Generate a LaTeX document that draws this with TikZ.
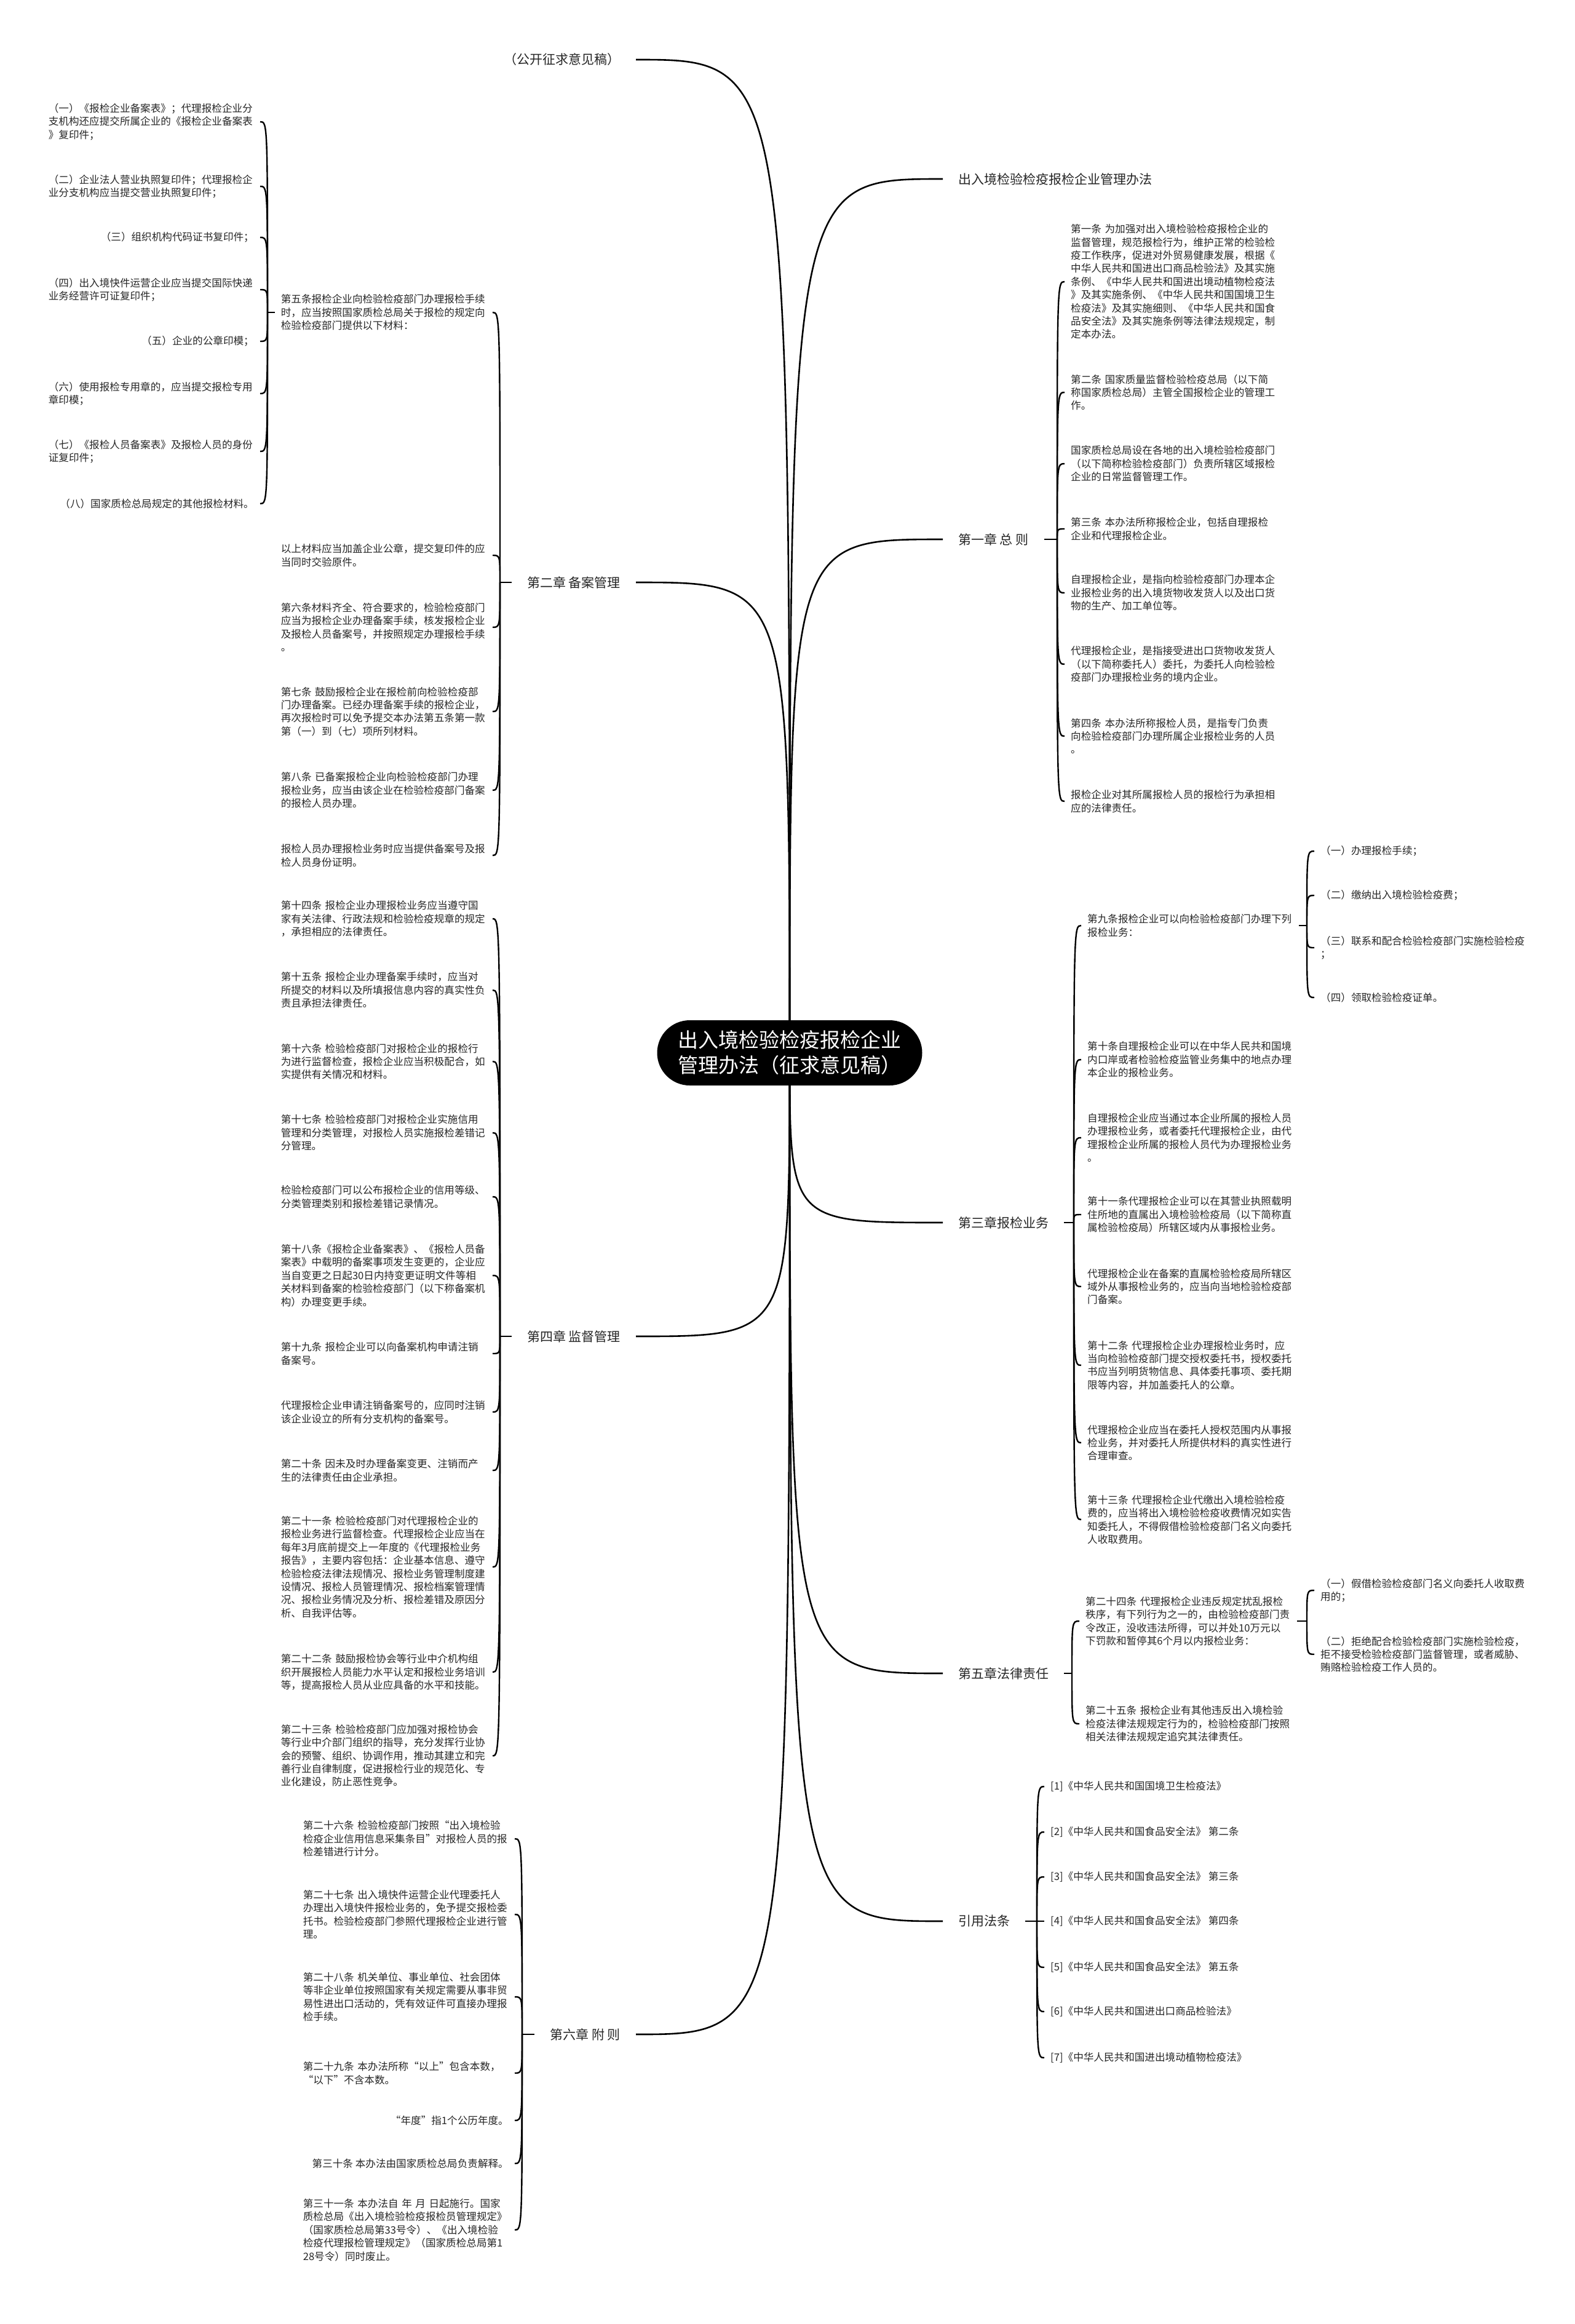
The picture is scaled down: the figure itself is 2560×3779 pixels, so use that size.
\documentclass[tikz,border=0pt]{standalone}
\usepackage{fontspec}
\setmainfont{Noto Sans CJK SC}
\usetikzlibrary{backgrounds}

\begin{document}
\begin{tikzpicture}[x=1pt,y=-1pt,
  hub/.style={fill=black, text=white, rounded corners=53pt, minimum width=431pt, minimum height=106pt, align=left, inner xsep=31pt, font=\fontsize{33pt}{41pt}\selectfont},
  topic/.style={text=black!85, inner xsep=25pt, font=\fontsize{21pt}{26pt}\selectfont},
  leaf/.style={text=black!85, align=left, inner xsep=10pt, inner ysep=2pt, font=\fontsize{16.6pt}{21.4pt}\selectfont},
  para/.style={leaf, text width=334pt},
  branch/.style={line width=2.6pt},
  twig/.style={line width=2.4pt}]
  \path[use as bounding box] (0,0) rectangle (2560,3779);

  \node[hub] (root) at (1284,1712) {出入境检验检疫报检企业\\管理办法（征求意见稿）};

  % left topics
  \node[topic, anchor=east] (draft) at (1034,97) {（公开征求意见稿）};
  \node[topic, anchor=east] (ch2) at (1034,947) {第二章 备案管理};
  \node[topic, anchor=east] (ch4) at (1034,2173) {第四章 监督管理};
  \node[topic, anchor=east] (ch6) at (1034,3308) {第六章 附 则};

  % right topics
  \node[topic, anchor=west] (title) at (1533,291) {出入境检验检疫报检企业管理办法};
  \node[topic, anchor=west] (ch1) at (1533,877) {第一章 总 则};
  \node[topic, anchor=west] (ch3) at (1533,1988) {第三章报检业务};
  \node[topic, anchor=west] (ch5) at (1533,2721) {第五章法律责任};
  \node[topic, anchor=west] (refs) at (1533,3124) {引用法条};

  \coordinate (ch2t) at (813,947);
  \coordinate (ch4t) at (813,2173);
  \coordinate (ch6t) at (849,3308);
  \coordinate (ch1t) at (1719,877);
  \coordinate (ch3t) at (1746,1988);
  \coordinate (ch5t) at (1743,2721);
  \coordinate (refst) at (1686,3124);

  % chapter 2
  \node[para, anchor=east] (ch2a) at (801,508) {第五条报检企业向检验检疫部门办理报检手续\\时，应当按照国家质检总局关于报检的规定向\\检验检疫部门提供以下材料：};
  \node[para, anchor=east] (ch2b) at (801,903) {以上材料应当加盖企业公章，提交复印件的应\\当同时交验原件。};
  \node[para, anchor=east] (ch2c) at (801,1020) {第六条材料齐全、符合要求的，检验检疫部门\\应当为报检企业办理备案手续，核发报检企业\\及报检人员备案号，并按照规定办理报检手续\\。};
  \node[para, anchor=east] (ch2d) at (801,1157) {第七条 鼓励报检企业在报检前向检验检疫部\\门办理备案。已经办理备案手续的报检企业，\\再次报检时可以免予提交本办法第五条第一款\\第（一）到（七）项所列材料。};
  \node[para, anchor=east] (ch2e) at (801,1285) {第八条 已备案报检企业向检验检疫部门办理\\报检业务，应当由该企业在检验检疫部门备案\\的报检人员办理。};
  \node[para, anchor=east] (ch2f) at (801,1391) {报检人员办理报检业务时应当提供备案号及报\\检人员身份证明。};

  \coordinate (ch2at) at (435,508);
  \node[para, anchor=east] (ch2a1) at (423,198) {（一）《报检企业备案表》；代理报检企业分\\支机构还应提交所属企业的《报检企业备案表\\》复印件；};
  \node[para, anchor=east] (ch2a2) at (423,303) {（二）企业法人营业执照复印件；代理报检企\\业分支机构应当提交营业执照复印件；};
  \node[leaf, anchor=east] (ch2a3) at (423,386) {（三）组织机构代码证书复印件；};
  \node[para, anchor=east] (ch2a4) at (423,471) {（四）出入境快件运营企业应当提交国际快递\\业务经营许可证复印件；};
  \node[leaf, anchor=east] (ch2a5) at (423,555) {（五）企业的公章印模；};
  \node[para, anchor=east] (ch2a6) at (423,640) {（六）使用报检专用章的，应当提交报检专用\\章印模；};
  \node[para, anchor=east] (ch2a7) at (423,734) {（七）《报检人员备案表》及报检人员的身份\\证复印件；};
  \node[leaf, anchor=east] (ch2a8) at (423,819) {（八）国家质检总局规定的其他报检材料。};

  % chapter 4
  \node[para, anchor=east] (ch4a) at (801,1494) {第十四条 报检企业办理报检业务应当遵守国\\家有关法律、行政法规和检验检疫规章的规定\\，承担相应的法律责任。};
  \node[para, anchor=east] (ch4b) at (801,1610) {第十五条 报检企业办理备案手续时，应当对\\所提交的材料以及所填报信息内容的真实性负\\责且承担法律责任。};
  \node[para, anchor=east] (ch4c) at (801,1726) {第十六条 检验检疫部门对报检企业的报检行\\为进行监督检查，报检企业应当积极配合，如\\实提供有关情况和材料。};
  \node[para, anchor=east] (ch4d) at (801,1842) {第十七条 检验检疫部门对报检企业实施信用\\管理和分类管理，对报检人员实施报检差错记\\分管理。};
  \node[para, anchor=east] (ch4e) at (801,1946) {检验检疫部门可以公布报检企业的信用等级、\\分类管理类别和报检差错记录情况。};
  \node[para, anchor=east] (ch4f) at (801,2074) {第十八条《报检企业备案表》、《报检人员备\\案表》中载明的备案事项发生变更的，企业应\\当自变更之日起30日内持变更证明文件等相\\关材料到备案的检验检疫部门（以下称备案机\\构）办理变更手续。};
  \node[para, anchor=east] (ch4g) at (801,2201) {第十九条 报检企业可以向备案机构申请注销\\备案号。};
  \node[para, anchor=east] (ch4h) at (801,2296) {代理报检企业申请注销备案号的，应同时注销\\该企业设立的所有分支机构的备案号。};
  \node[para, anchor=east] (ch4i) at (801,2391) {第二十条 因未及时办理备案变更、注销而产\\生的法律责任由企业承担。};
  \node[para, anchor=east] (ch4j) at (801,2548) {第二十一条 检验检疫部门对代理报检企业的\\报检业务进行监督检查。代理报检企业应当在\\每年3月底前提交上一年度的《代理报检业务\\报告》，主要内容包括：企业基本信息、遵守\\检验检疫法律法规情况、报检业务管理制度建\\设情况、报检人员管理情况、报检档案管理情\\况、报检业务情况及分析、报检差错及原因分\\析、自我评估等。};
  \node[para, anchor=east] (ch4k) at (801,2719) {第二十二条 鼓励报检协会等行业中介机构组\\织开展报检人员能力水平认定和报检业务培训\\等，提高报检人员从业应具备的水平和技能。};
  \node[para, anchor=east] (ch4l) at (801,2855) {第二十三条 检验检疫部门应加强对报检协会\\等行业中介部门组织的指导，充分发挥行业协\\会的预警、组织、协调作用，推动其建立和完\\善行业自律制度，促进报检行业的规范化、专\\业化建设，防止恶性竞争。};

  % chapter 6
  \node[para, anchor=east] (ch6a) at (837,2990) {第二十六条 检验检疫部门按照“出入境检验\\检疫企业信用信息采集条目”对报检人员的报\\检差错进行计分。};
  \node[para, anchor=east] (ch6b) at (837,3113) {第二十七条 出入境快件运营企业代理委托人\\办理出入境快件报检业务的，免予提交报检委\\托书。检验检疫部门参照代理报检企业进行管\\理。};
  \node[para, anchor=east] (ch6c) at (837,3247) {第二十八条 机关单位、事业单位、社会团体\\等非企业单位按照国家有关规定需要从事非贸\\易性进出口活动的，凭有效证件可直接办理报\\检手续。};
  \node[para, anchor=east] (ch6d) at (837,3371) {第二十九条 本办法所称“以上”包含本数，\\“以下”不含本数。};
  \node[leaf, anchor=east] (ch6e) at (837,3448) {“年度”指1个公历年度。};
  \node[leaf, anchor=east] (ch6f) at (837,3518) {第三十条 本办法由国家质检总局负责解释。};
  \node[para, anchor=east] (ch6g) at (837,3626) {第三十一条 本办法自 年 月 日起施行。国家\\质检总局《出入境检验检疫报检员管理规定》\\（国家质检总局第33号令）、《出入境检验\\检疫代理报检管理规定》（国家质检总局第1\\28号令）同时废止。};

  % chapter 1
  \node[para, anchor=west] (ch1a) at (1731,458) {第一条 为加强对出入境检验检疫报检企业的\\监督管理，规范报检行为，维护正常的检验检\\疫工作秩序，促进对外贸易健康发展，根据《\\中华人民共和国进出口商品检验法》及其实施\\条例、《中华人民共和国进出境动植物检疫法\\》及其实施条例、《中华人民共和国国境卫生\\检疫法》及其实施细则、《中华人民共和国食\\品安全法》及其实施条例等法律法规规定，制\\定本办法。};
  \node[para, anchor=west] (ch1b) at (1731,638) {第二条 国家质量监督检验检疫总局（以下简\\称国家质检总局）主管全国报检企业的管理工\\作。};
  \node[para, anchor=west] (ch1c) at (1731,754) {国家质检总局设在各地的出入境检验检疫部门\\（以下简称检验检疫部门）负责所辖区域报检\\企业的日常监督管理工作。};
  \node[para, anchor=west] (ch1d) at (1731,860) {第三条 本办法所称报检企业，包括自理报检\\企业和代理报检企业。};
  \node[para, anchor=west] (ch1e) at (1731,964) {自理报检企业，是指向检验检疫部门办理本企\\业报检业务的出入境货物收发货人以及出口货\\物的生产、加工单位等。};
  \node[para, anchor=west] (ch1f) at (1731,1080) {代理报检企业，是指接受进出口货物收发货人\\（以下简称委托人）委托，为委托人向检验检\\疫部门办理报检业务的境内企业。};
  \node[para, anchor=west] (ch1g) at (1731,1197) {第四条 本办法所称报检人员，是指专门负责\\向检验检疫部门办理所属企业报检业务的人员\\。};
  \node[para, anchor=west] (ch1h) at (1731,1303) {报检企业对其所属报检人员的报检行为承担相\\应的法律责任。};

  % chapter 3
  \node[para, anchor=west] (ch3a) at (1758,1505) {第九条报检企业可以向检验检疫部门办理下列\\报检业务：};
  \node[para, anchor=west] (ch3b) at (1758,1723) {第十条自理报检企业可以在中华人民共和国境\\内口岸或者检验检疫监管业务集中的地点办理\\本企业的报检业务。};
  \node[para, anchor=west] (ch3c) at (1758,1850) {自理报检企业应当通过本企业所属的报检人员\\办理报检业务，或者委托代理报检企业，由代\\理报检企业所属的报检人员代为办理报检业务\\。};
  \node[para, anchor=west] (ch3d) at (1758,1975) {第十一条代理报检企业可以在其营业执照载明\\住所地的直属出入境检验检疫局（以下简称直\\属检验检疫局）所辖区域内从事报检业务。};
  \node[para, anchor=west] (ch3e) at (1758,2092) {代理报检企业在备案的直属检验检疫局所辖区\\域外从事报检业务的，应当向当地检验检疫部\\门备案。};
  \node[para, anchor=west] (ch3f) at (1758,2220) {第十二条 代理报检企业办理报检业务时，应\\当向检验检疫部门提交授权委托书，授权委托\\书应当列明货物信息、具体委托事项、委托期\\限等内容，并加盖委托人的公章。};
  \node[para, anchor=west] (ch3g) at (1758,2346) {代理报检企业应当在委托人授权范围内从事报\\检业务，并对委托人所提供材料的真实性进行\\合理审查。};
  \node[para, anchor=west] (ch3h) at (1758,2471) {第十三条 代理报检企业代缴出入境检验检疫\\费的，应当将出入境检验检疫收费情况如实告\\知委托人，不得假借检验检疫部门名义向委托\\人收取费用。};

  \coordinate (ch3at) at (2125,1505);
  \node[leaf, anchor=west] (ch3a1) at (2137,1384) {（一）办理报检手续；};
  \node[leaf, anchor=west] (ch3a2) at (2137,1456) {（二）缴纳出入境检验检疫费；};
  \node[leaf, anchor=west] (ch3a3) at (2137,1541) {（三）联系和配合检验检疫部门实施检验检疫\\；};
  \node[leaf, anchor=west] (ch3a4) at (2137,1622) {（四）领取检验检疫证单。};

  % chapter 5
  \node[para, anchor=west] (ch5a) at (1755,2636) {第二十四条 代理报检企业违反规定扰乱报检\\秩序，有下列行为之一的，由检验检疫部门责\\令改正，没收违法所得，可以并处10万元以\\下罚款和暂停其6个月以内报检业务：};
  \node[para, anchor=west] (ch5b) at (1755,2803) {第二十五条 报检企业有其他违反出入境检验\\检疫法律法规规定行为的，检验检疫部门按照\\相关法律法规规定追究其法律责任。};

  \coordinate (ch5at) at (2125,2636);
  \node[para, anchor=west] (ch5a1) at (2137,2586) {（一）假借检验检疫部门名义向委托人收取费\\用的；};
  \node[para, anchor=west] (ch5a2) at (2137,2690) {（二）拒绝配合检验检疫部门实施检验检疫，\\拒不接受检验检疫部门监督管理，或者威胁、\\贿赂检验检疫工作人员的。};

  % cited laws
  \node[leaf, anchor=west] (refs1) at (1698,2905) {[1]《中华人民共和国国境卫生检疫法》};
  \node[leaf, anchor=west] (refs2) at (1698,2979) {[2]《中华人民共和国食品安全法》 第二条};
  \node[leaf, anchor=west] (refs3) at (1698,3052) {[3]《中华人民共和国食品安全法》 第三条};
  \node[leaf, anchor=west] (refs4) at (1698,3124) {[4]《中华人民共和国食品安全法》 第四条};
  \node[leaf, anchor=west] (refs5) at (1698,3199) {[5]《中华人民共和国食品安全法》 第五条};
  \node[leaf, anchor=west] (refs6) at (1698,3271) {[6]《中华人民共和国进出口商品检验法》};
  \node[leaf, anchor=west] (refs7) at (1698,3346) {[7]《中华人民共和国进出境动植物检疫法》};

  \begin{scope}[on background layer]
    \fill[white] (0,0) rectangle (2560,3779);
    % root to topics
    \foreach \t in {draft,ch2,ch4,ch6}
      \draw[branch] (root.center) .. controls (root.center |- \t.east) .. (\t.east);
    \foreach \t in {title,ch1,ch3,ch5,refs}
      \draw[branch] (root.center) .. controls (root.center |- \t.west) .. (\t.west);
    % stubs
    \foreach \t in {ch2,ch4,ch6}
      \draw[twig] (\t.west) -- (\t t);
    \foreach \t in {ch1,ch3,ch5,refs}
      \draw[twig] (\t.east) -- (\t t);
    \draw[twig] (ch2a.west) -- (ch2at);
    \draw[twig] (ch3a.east) -- (ch3at);
    \draw[twig] (ch5a.east) -- (ch5at);
    % left leaves
    \foreach \k in {ch2a,ch2b,ch2c,ch2d,ch2e,ch2f}
      \draw[twig] (ch2t) .. controls (ch2t |- \k.east) .. (\k.east);
    \foreach \k in {ch2a1,ch2a2,ch2a3,ch2a4,ch2a5,ch2a6,ch2a7,ch2a8}
      \draw[twig] (ch2at) .. controls (ch2at |- \k.east) .. (\k.east);
    \foreach \k in {ch4a,ch4b,ch4c,ch4d,ch4e,ch4f,ch4g,ch4h,ch4i,ch4j,ch4k,ch4l}
      \draw[twig] (ch4t) .. controls (ch4t |- \k.east) .. (\k.east);
    \foreach \k in {ch6a,ch6b,ch6c,ch6d,ch6e,ch6f,ch6g}
      \draw[twig] (ch6t) .. controls (ch6t |- \k.east) .. (\k.east);
    % right leaves
    \foreach \k in {ch1a,ch1b,ch1c,ch1d,ch1e,ch1f,ch1g,ch1h}
      \draw[twig] (ch1t) .. controls (ch1t |- \k.west) .. (\k.west);
    \foreach \k in {ch3a,ch3b,ch3c,ch3d,ch3e,ch3f,ch3g,ch3h}
      \draw[twig] (ch3t) .. controls (ch3t |- \k.west) .. (\k.west);
    \foreach \k in {ch3a1,ch3a2,ch3a3,ch3a4}
      \draw[twig] (ch3at) .. controls (ch3at |- \k.west) .. (\k.west);
    \foreach \k in {ch5a,ch5b}
      \draw[twig] (ch5t) .. controls (ch5t |- \k.west) .. (\k.west);
    \foreach \k in {ch5a1,ch5a2}
      \draw[twig] (ch5at) .. controls (ch5at |- \k.west) .. (\k.west);
    \foreach \k in {refs1,refs2,refs3,refs4,refs5,refs6,refs7}
      \draw[twig] (refst) .. controls (refst |- \k.west) .. (\k.west);
  \end{scope}
\end{tikzpicture}
\end{document}
